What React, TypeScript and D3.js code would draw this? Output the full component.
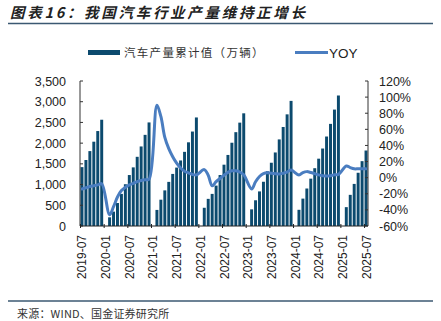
import React from "react";
import * as d3 from "d3";

const W = 441;
const H = 321;

// categories: monthly 2019-07 .. 2025-07
const startYear = 2019;
const months: string[] = [];
for (let k = 0; k < 73; k++) {
  const m = 6 + k; // 0-based month index from Jan 2019
  const y = startYear + Math.floor(m / 12);
  const mm = (m % 12) + 1;
  months.push(`${y}-${mm < 10 ? "0" + mm : mm}`);
}

// cumulative production (万辆); January not reported
const production: (number | null)[] = [
  1421, 1593, 1808, 2035, 2292, 2565,
  null, 210, 347, 555, 775, 1008, 1230, 1415, 1670, 1920, 2200, 2500,
  null, 388, 635, 860, 1065, 1257, 1410, 1582, 1790, 2020, 2280, 2620,
  null, 440, 655, 775, 975, 1230, 1480, 1715, 2010, 2265, 2495, 2720,
  null, 402, 621, 835, 1068, 1322, 1527, 1775, 2090, 2390, 2695, 3020,
  null, 391, 661, 905, 1143, 1395, 1625, 1870, 2160, 2465, 2810, 3150,
  null, 455, 752, 1016, 1285, 1565, 1822,
];

// YOY (%)
const yoy: (number | null)[] = [
  -14, -12.5, -11, -10, -9, -7.5,
  null, -46, -36, -24, -16, -12, -9, -7, -5, -3.5, -2.5, -2,
  null, 90, 76, 50, 36, 26, 18, 12, 8, 6, 4, 3.5,
  null, 10, 3, -10, -5, -1, 3, 6.5, 8.5, 8.5, 7, 3.5,
  null, -14, -5, 1.5, 5, 6, 5.5, 5, 4.5, 5.5, 7, 9.5,
  null, 3.3, 6.4, 7.5, 6.5, 5, 3.5, 2.5, 2, 2.5, 3.5, 4,
  null, 14.5, 12.5, 11, 11, 11, 11,
];

const leftTicks = [0, 500, 1000, 1500, 2000, 2500, 3000, 3500];
const rightTicks = [-60, -40, -20, 0, 20, 40, 60, 80, 100, 120];
const xTickLabels = months.filter((_, i) => i % 6 === 0);

const title = "图表16：我国汽车行业产量维持正增长";
const legendBar = "汽车产量累计值（万辆）";
const legendLine = "YOY";
const source = "来源：WIND、国金证券研究所";

const BAR = "#0c4a6e";
const LINE = "#4a7dc0";
const RULE = "#3b5872";
const NUM_FONT = "'Liberation Sans', Arial, sans-serif";
const CJK_FONT = "'Noto Sans CJK SC', sans-serif";

export default function App() {
  const left = 80, right = 368, top = 81, bottom = 226;
  const x = d3.scaleBand<string>().domain(months).range([left, right]).paddingInner(0.25).paddingOuter(0.125);
  const yL = d3.scaleLinear().domain([0, 3500]).range([bottom, top]);
  const yR = d3.scaleLinear().domain([-60, 120]).range([bottom, top]);
  const bw = x.bandwidth();
  const cx = (m: string) => (x(m) as number) + bw / 2;

  const pts = months
    .map((m, i) => ({ m, v: yoy[i] }))
    .filter((d) => d.v !== null) as { m: string; v: number }[];
  const linePath = d3
    .line<{ m: string; v: number }>()
    .x((d) => cx(d.m))
    .y((d) => yR(d.v))
    .curve(d3.curveCatmullRom.alpha(0.5))(pts) as string;

  return (
    <svg width={W} height={H} style={{ position: "absolute", left: 0, top: 0, background: "#fff" }}>
      {/* title */}
      <text x={10} y={18} fontFamily={CJK_FONT} fontWeight={700} fontStyle="italic" fontSize={14.5} fill="#222" letterSpacing={2.7}>
        {title}
      </text>
      <line x1={8} x2={433} y1={23.5} y2={23.5} stroke={RULE} strokeWidth={1.5} />

      {/* legend */}
      <rect x={88} y={50} width={32} height={5} fill={BAR} />
      <text x={124} y={56.5} fontFamily={CJK_FONT} fontSize={11.5} fill="#333" letterSpacing={1.3}>
        {legendBar}
      </text>
      <line x1={295} x2={328} y1={52.5} y2={52.5} stroke={LINE} strokeWidth={3} />
      <text x={329} y={57.5} fontFamily={NUM_FONT} fontSize={13.5} fill="#222">
        {legendLine}
      </text>

      {/* bars */}
      {months.map((m, i) =>
        production[i] === null ? null : (
          <rect key={m} x={x(m)} y={yL(production[i] as number)} width={bw} height={bottom - yL(production[i] as number)} fill={BAR} />
        )
      )}

      {/* line */}
      <path d={linePath} fill="none" stroke={LINE} strokeWidth={3} strokeLinejoin="round" strokeLinecap="round" />

      {/* left axis */}
      <line x1={left} x2={left} y1={top} y2={bottom} stroke="#333" strokeWidth={1} />
      {leftTicks.map((t) => (
        <g key={t}>
          <line x1={left} x2={left + 3} y1={yL(t)} y2={yL(t)} stroke="#333" />
          <text x={66} y={yL(t) + 4.5} textAnchor="end" fontFamily={NUM_FONT} fontSize={12.5} fill="#222">
            {d3.format(",")(t)}
          </text>
        </g>
      ))}

      {/* right axis */}
      <line x1={right} x2={right} y1={top} y2={bottom} stroke="#333" strokeWidth={1} />
      {rightTicks.map((t) => (
        <g key={t}>
          <line x1={right - 3} x2={right} y1={yR(t)} y2={yR(t)} stroke="#333" />
          <text x={379} y={yR(t) + 4.5} textAnchor="start" fontFamily={NUM_FONT} fontSize={12.5} fill="#222">
            {`${t}%`}
          </text>
        </g>
      ))}

      {/* x axis */}
      <line x1={left} x2={right} y1={bottom} y2={bottom} stroke="#222" strokeWidth={1.2} />
      {xTickLabels.map((m) => (
        <g key={m}>
          <line x1={x(m)} x2={x(m)} y1={bottom - 2} y2={bottom + 2} stroke="#222" />
          <text
            transform={`translate(${cx(m) + 4.5},${bottom + 9}) rotate(-90)`}
            textAnchor="end"
            fontFamily={NUM_FONT}
            fontSize={12}
            fill="#222"
          >
            {m}
          </text>
        </g>
      ))}

      {/* footer */}
      <line x1={8} x2={433} y1={301} y2={301} stroke={RULE} strokeWidth={1.5} />
      <text x={17} y={318} fontFamily={CJK_FONT} fontSize={11} fill="#333" letterSpacing={0.2}>
        {source}
      </text>
    </svg>
  );
}
